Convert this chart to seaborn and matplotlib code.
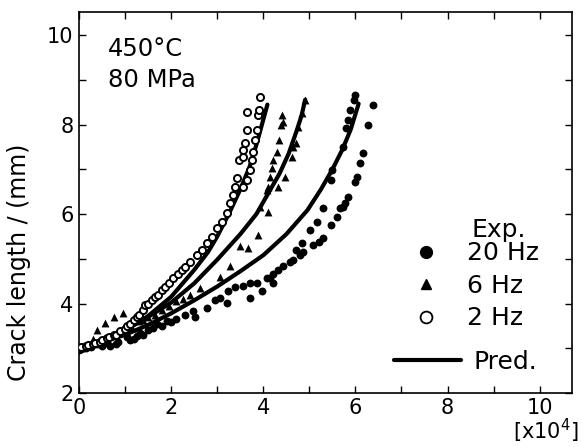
import matplotlib
matplotlib.use("Agg")
import matplotlib.pyplot as plt
import pandas as pd
import seaborn as sns
from matplotlib.lines import Line2D
from matplotlib.ticker import MultipleLocator

# Cycles (x10^4) and crack length (mm).
hz20_n = [0.0, 0.05, 0.15, 0.25, 0.39, 0.5, 0.6, 0.67, 0.8, 0.85, 1.04, 1.1, 1.2,
          1.25, 1.33, 1.4, 1.5, 1.6, 1.7, 1.8, 1.9, 2.0, 2.1, 2.3,
          2.48, 2.52, 2.78, 2.96, 3.07, 3.22, 3.24, 3.39, 3.57, 3.72, 3.72, 3.87,
          3.98, 4.09, 4.15, 4.22, 4.22, 4.33, 4.43, 4.59, 4.65, 4.7, 4.8, 4.85,
          4.87, 5.02, 5.09, 5.17, 5.2, 5.3, 5.3, 5.46, 5.61, 5.67, 5.78, 5.85,
          5.72, 6.0, 6.04, 6.1, 6.17, 6.28, 6.39, 5.46, 5.5, 5.72, 5.8, 5.85,
          5.89, 5.96, 6.0]
hz20_a = [2.95, 2.98, 3.0, 3.02, 3.1, 3.05, 3.12, 3.06, 3.1, 3.15, 3.24, 3.18, 3.2,
          3.28, 3.35, 3.3, 3.4, 3.45, 3.55, 3.5, 3.6, 3.58, 3.65, 3.75,
          3.84, 3.69, 3.91, 4.07, 4.13, 4.02, 4.29, 4.36, 4.4, 4.45, 4.13, 4.45,
          4.29, 4.56, 4.58, 4.67, 4.45, 4.74, 4.85, 4.92, 4.97, 5.19, 5.08, 5.35,
          5.15, 5.64, 5.3, 5.82, 5.37, 5.46, 6.13, 5.75, 5.93, 6.13, 6.25, 6.38,
          6.16, 6.72, 6.83, 7.15, 7.37, 8.0, 8.45, 6.76, 6.99, 7.51, 7.93, 8.11,
          8.34, 8.56, 8.67]

hz6_n = [0.05, 0.2, 0.3, 0.39, 0.57, 0.6, 0.76, 0.85, 0.96, 1.1, 1.15, 1.3, 1.4,
         1.5, 1.65, 1.8, 1.95, 2.1, 2.25, 2.4, 2.63,
         3.07, 3.28, 3.5, 3.67, 3.89, 3.93, 4.11, 4.09, 4.11, 4.33, 4.15, 4.48,
         4.2, 4.22, 4.63, 4.3, 4.65, 4.7, 4.35, 4.76, 4.39, 4.43, 4.41, 4.85, 4.91]
hz6_a = [3.0, 3.1, 3.2, 3.4, 3.57, 3.25, 3.69, 3.35, 3.78, 3.5, 3.45, 3.6, 3.62,
         3.7, 3.75, 3.85, 3.95, 4.05, 4.1, 4.2, 4.34,
         4.6, 4.83, 5.28, 5.24, 5.53, 6.16, 6.04, 6.54, 6.61, 6.61, 6.83, 6.83,
         7.03, 7.21, 7.28, 7.39, 7.5, 7.6, 7.66, 7.96, 8.0, 8.07, 8.22, 8.27, 8.56]

hz2_n = [0.0, 0.05, 0.15, 0.2, 0.3, 0.35, 0.45, 0.5, 0.6, 0.65, 0.75, 0.8, 0.9,
         1.0, 1.05, 1.1, 1.2, 1.25, 1.3, 1.38, 1.43, 1.5, 1.59, 1.65, 1.72, 1.8,
         1.87, 1.95, 2.04, 2.15, 2.24, 2.3, 2.41, 2.57, 2.67, 2.78, 2.89, 3.0,
         3.11, 3.22, 3.28, 3.35, 3.39, 3.43, 3.48, 3.57, 3.65, 3.72, 3.76, 3.78,
         3.56, 3.57, 3.61, 3.65, 3.65, 3.83, 3.87, 3.89, 3.91, 3.93]
hz2_a = [3.0, 3.02, 3.05, 3.08, 3.1, 3.12, 3.15, 3.18, 3.22, 3.25, 3.3, 3.3, 3.38,
         3.42, 3.5, 3.55, 3.62, 3.7, 3.75, 3.85, 3.96, 3.98, 4.07, 4.15, 4.2, 4.3,
         4.38, 4.45, 4.58, 4.65, 4.74, 4.81, 4.92, 5.08, 5.19, 5.35, 5.48, 5.69,
         5.82, 6.02, 6.25, 6.43, 6.61, 6.8, 7.21, 6.61, 6.76, 6.99, 7.21, 7.39,
         7.28, 7.44, 7.6, 7.89, 8.29, 7.66, 7.89, 8.22, 8.34, 8.63]

pred2_n = [0.0, 0.5, 1.0, 1.5, 2.0, 2.5, 2.8, 3.0, 3.25, 3.5, 3.7, 3.85, 3.97, 4.09]
pred2_a = [3.0, 3.17, 3.4, 3.72, 4.15, 4.75, 5.15, 5.5, 6.0, 6.55, 7.05, 7.55, 8.0,
           8.45]
pred6_n = [0.0, 0.5, 1.0, 1.5, 2.0, 2.5, 3.0, 3.5, 3.85, 4.1, 4.35, 4.55, 4.72,
           4.83, 4.91]
pred6_a = [3.0, 3.17, 3.4, 3.7, 4.02, 4.45, 4.98, 5.55, 6.0, 6.45, 6.9, 7.35, 7.85,
           8.2, 8.56]
pred20_n = [0.0, 0.5, 1.0, 1.5, 2.0, 2.5, 3.0, 3.5, 4.0, 4.5, 4.96, 5.25, 5.5,
            5.72, 5.9, 6.07]
pred20_a = [3.0, 3.13, 3.3, 3.52, 3.78, 4.07, 4.38, 4.72, 5.08, 5.55, 6.09, 6.55,
            7.0, 7.45, 7.9, 8.47]

sns.set_theme(style="ticks")
plt.rcParams["font.family"] = ["DejaVu Sans"]
plt.rcParams["mathtext.fontset"] = "dejavusans"
for key in ["text.color", "axes.labelcolor", "xtick.color", "ytick.color",
            "axes.edgecolor"]:
    plt.rcParams[key] = "black"

d20 = pd.DataFrame({"n": hz20_n, "a": hz20_a})
d6 = pd.DataFrame({"n": hz6_n, "a": hz6_a})
d2 = pd.DataFrame({"n": hz2_n, "a": hz2_a})
pred = pd.concat([
    pd.DataFrame({"n": pred2_n, "a": pred2_a, "f": "2 Hz"}),
    pd.DataFrame({"n": pred6_n, "a": pred6_a, "f": "6 Hz"}),
    pd.DataFrame({"n": pred20_n, "a": pred20_a, "f": "20 Hz"}),
])

fig = plt.figure(figsize=(5.83, 4.47), dpi=100)
ax = fig.add_axes([0.1355, 0.121, 0.8455, 0.852])

sns.lineplot(data=pred, x="n", y="a", units="f", estimator=None, sort=False,
             color="black", linewidth=3.0, ax=ax, legend=False)
sns.scatterplot(data=d20, x="n", y="a", marker="o", s=32, color="black",
                edgecolor="black", linewidth=0, ax=ax, legend=False, zorder=3)
sns.scatterplot(data=d6, x="n", y="a", marker="^", s=32, color="black",
                edgecolor="black", linewidth=0, ax=ax, legend=False, zorder=3)
sns.scatterplot(data=d2, x="n", y="a", marker="o", s=26, facecolor="white",
                edgecolor="black", linewidth=1.4, ax=ax, legend=False, zorder=3)

ax.set_xlim(0, 10.7)
ax.set_ylim(2, 10.52)
ax.xaxis.set_major_locator(MultipleLocator(2))
ax.xaxis.set_minor_locator(MultipleLocator(1))
ax.yaxis.set_major_locator(MultipleLocator(2))
ax.yaxis.set_minor_locator(MultipleLocator(1))
ax.tick_params(which="both", direction="in", top=True, right=True,
               length=5, width=1.0, color="black", labelsize=15, pad=4)
for s in ax.spines.values():
    s.set_linewidth(1.2)
ax.set_xlabel("")
ax.set_ylabel("Crack length / (mm)", fontsize=17)
ax.yaxis.set_label_coords(-0.098, 0.344)

ax.text(0.058, 0.935, "450°C\n80 MPa", transform=ax.transAxes, fontsize=17.5,
        va="top", ha="left", linespacing=1.4)
fig.text(0.992, 0.005, "[x10$^4$]", fontsize=15, ha="right", va="bottom")

ax.text(0.852, 0.428, "Exp.", transform=ax.transAxes, fontsize=18,
        ha="center", va="center")
exp_handles = [
    Line2D([], [], marker="o", linestyle="none", color="black", markersize=8.5),
    Line2D([], [], marker="^", linestyle="none", color="black", markersize=7.5),
    Line2D([], [], marker="o", linestyle="none", markerfacecolor="white",
           markeredgecolor="black", markeredgewidth=1.3, markersize=8.5),
]
leg1 = ax.legend(exp_handles, ["20 Hz", "6 Hz", "2 Hz"],
                 loc="upper left", bbox_to_anchor=(0.628, 0.457), frameon=False,
                 fontsize=18, handletextpad=1.04, labelspacing=0.34,
                 handlelength=1.2)
ax.add_artist(leg1)
ax.legend([Line2D([], [], color="black", linewidth=3.0)], ["Pred."],
          loc="upper left", bbox_to_anchor=(0.594, 0.173), frameon=False,
          fontsize=18, handlelength=2.68, handletextpad=0.48)

fig.savefig("out.png", dpi=100)
